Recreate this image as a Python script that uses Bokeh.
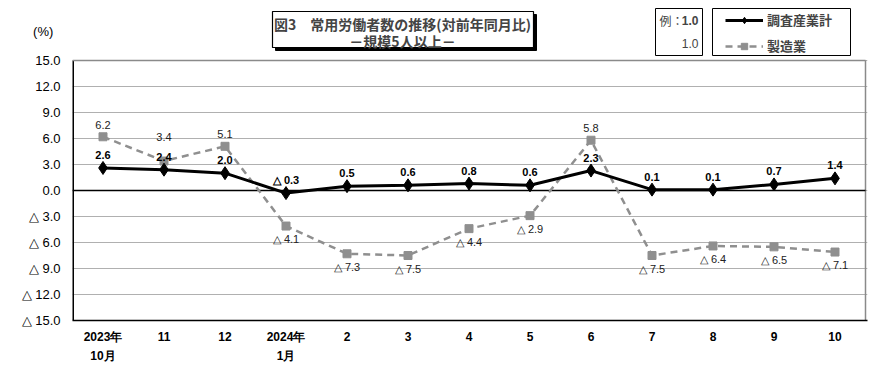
from bokeh.plotting import figure
from bokeh.models import (Range1d, FixedTicker, ColumnDataSource, Label, BoxAnnotation,
                          Legend, LegendItem)
from bokeh.core.properties import value
from bokeh.embed import file_html
from bokeh.resources import INLINE

# ---- data ----
months = ["2023年\n10月", "11", "12", "2024年\n1月", "2", "3", "4", "5", "6", "7", "8", "9", "10"]
total = [2.6, 2.4, 2.0, -0.3, 0.5, 0.6, 0.8, 0.6, 2.3, 0.1, 0.1, 0.7, 1.4]
manuf = [6.2, 3.4, 5.1, -4.1, -7.3, -7.5, -4.4, -2.9, 5.8, -7.5, -6.4, -6.5, -7.1]
y_ticks = [-15, -12, -9, -6, -3, 0, 3, 6, 9, 12, 15]
title_lines = ["図3　常用労働者数の推移(対前年同月比)", "－規模5人以上－"]
series_names = ["調査産業計", "製造業"]
unit_label = "(%)"


def fmt(v):
    return f"{v:.1f}" if v >= 0 else f"△ {abs(v):.1f}"


JP = "Noto Sans CJK JP"
NUM = "Liberation Sans"
GRAY = "#8f8f8f"
BORDER_GRAY = "#8a8a8a"

# geometry (page pixels; the page has no margin)
W, H = 890, 370
FL, FR_AX, FT_AX, FB = 72, 865, 60, 320     # plot-area edges in the reference
FRAME_R = 867                                # frame a bit wider so the right border is visible
XN = len(months)
X0, X1 = -0.5, XN - 0.5
Y0, Y1 = -15, 15
XPP = (FR_AX - FL) / (X1 - X0)               # pixels per x unit
YPP = (FB - FT_AX) / (Y1 - Y0)               # pixels per y unit


def px(page_x):
    return X0 + (page_x - FL) / XPP


def py(page_y):
    return Y1 - (page_y - FT_AX) / YPP


xs = list(range(XN))
p = figure(width=W, height=H, x_range=Range1d(X0, px(FRAME_R)), y_range=Range1d(Y0, py(0)),
           output_backend="svg", toolbar_location=None,
           min_border_left=FL, min_border_right=W - FRAME_R, min_border_top=0,
           min_border_bottom=H - FB)
p.outline_line_color = None
p.xgrid.grid_line_color = None
p.ygrid.grid_line_color = "#b0b0b0"
p.ygrid.grid_line_width = 1
p.ygrid.ticker = FixedTicker(ticks=y_ticks)

# y axis: the unit "(%)" is an extra tick label placed above the scale
unit_tick = 18.4
p.yaxis.ticker = FixedTicker(ticks=y_ticks + [unit_tick])
overrides = {t: fmt(float(t)) for t in y_ticks}
overrides[unit_tick] = unit_label + "\u00a0\u00a0"
p.yaxis.major_label_overrides = overrides
p.yaxis.major_tick_line_color = None
p.yaxis.minor_tick_line_color = None
p.yaxis.major_tick_out = 0
p.yaxis.axis_line_color = None
p.yaxis.major_label_text_font = NUM
p.yaxis.major_label_text_font_size = "13px"
p.yaxis.major_label_text_color = "black"
p.yaxis.major_label_standoff = 12

p.xaxis.ticker = FixedTicker(ticks=xs)
p.xaxis.major_label_overrides = {i: m for i, m in zip(xs, months)}
p.xaxis.major_tick_line_color = None
p.xaxis.minor_tick_line_color = None
p.xaxis.major_tick_out = 0
p.xaxis.major_tick_in = 0
p.xaxis.axis_line_color = "black"
p.xaxis.axis_line_width = 1.5
p.xaxis.major_label_text_font = NUM
p.xaxis.major_label_text_font_style = "bold"
p.xaxis.major_label_text_font_size = "12px"
p.xaxis.major_label_text_line_height = 1.4
p.xaxis.major_label_text_color = "black"
p.xaxis.major_label_standoff = 9

# plot-area borders: left black, top/right gray, zero line black
p.segment(x0=[X0], y0=[Y0], x1=[X0], y1=[Y1], line_color="black", line_width=3)
p.segment(x0=[X0], y0=[Y1], x1=[X1], y1=[Y1], line_color=BORDER_GRAY, line_width=1.5)
p.segment(x0=[X1], y0=[Y0], x1=[X1], y1=[Y1], line_color=BORDER_GRAY, line_width=1.5)
p.segment(x0=[X0], y0=[0], x1=[X1], y1=[0], line_color="black", line_width=1.5)

# manufacturing (gray dashed)
r_m_line = p.line(xs, manuf, line_color=GRAY, line_width=2.5, line_dash="7 5")
r_m_pt = p.scatter(xs, manuf, marker="square", size=8, fill_color=GRAY, line_color=GRAY)

# total (black)
r_t_line = p.line(xs, total, line_color="black", line_width=3)
r_t_pt = p.scatter(xs, total, marker="diamond", size=13, fill_color="black", line_color="black")

# value labels: total
src_t = ColumnDataSource(dict(x=xs, y=total, t=[fmt(v) for v in total]))
p.text(x="x", y="y", text="t", source=src_t, y_offset=-13, text_align="center", text_baseline="middle",
       text_font=value(NUM), text_font_style="bold", text_font_size="11px", text_color="black")

# value labels: manufacturing
pos_i = [i for i, v in enumerate(manuf) if v >= 0]
neg_i = [i for i, v in enumerate(manuf) if v < 0]
src_mp = ColumnDataSource(dict(x=[xs[i] for i in pos_i], y=[manuf[i] for i in pos_i],
                               t=[fmt(manuf[i]) for i in pos_i],
                               dy=[-24 if i == 1 else -12 for i in pos_i]))
src_mn = ColumnDataSource(dict(x=[xs[i] for i in neg_i], y=[manuf[i] for i in neg_i],
                               t=[fmt(manuf[i]) for i in neg_i]))
p.text(x="x", y="y", text="t", source=src_mp, y_offset="dy", text_align="center", text_baseline="middle",
       text_font=value(NUM), text_font_size="11px", text_color="#222222")
p.text(x="x", y="y", text="t", source=src_mn, y_offset=13, text_align="center", text_baseline="middle",
       text_font=value(NUM), text_font_size="11px", text_color="#222222")

# ---- header: title box with shadow, example box ----
p.add_layout(BoxAnnotation(left=px(275), right=px(536), top=py(14), bottom=py(50),
                           fill_color="black", fill_alpha=1, line_color="black", line_alpha=1))
p.add_layout(BoxAnnotation(left=px(272), right=px(533), top=py(11), bottom=py(47),
                           fill_color="white", fill_alpha=1, line_color="black", line_alpha=1,
                           line_width=1.2))
for ln, yy in zip(title_lines, [23, 40]):
    p.add_layout(Label(x=px(402), y=py(yy), text=ln, text_font=JP, text_font_style="bold",
                       text_font_size="14px", text_align="center", text_baseline="middle"))

p.add_layout(BoxAnnotation(left=px(655), right=px(702), top=py(8), bottom=py(55),
                           fill_color="white", fill_alpha=1, line_color="black", line_alpha=1))
p.add_layout(Label(x=px(659), y=py(20), text="例：", text_font=JP, text_font_size="12px",
                   text_align="left", text_baseline="middle"))
p.add_layout(Label(x=px(698), y=py(20), text="1.0", text_font=NUM, text_font_style="bold",
                   text_font_size="12px", text_align="right", text_baseline="middle"))
p.add_layout(Label(x=px(698), y=py(43), text="1.0", text_font=NUM,
                   text_font_size="12px", text_align="right", text_baseline="middle"))

# ---- legend ----
p.add_layout(BoxAnnotation(left=px(712), right=px(850), top=py(8), bottom=py(55),
                           fill_color="white", fill_alpha=1, line_color="black", line_alpha=1))
legend = Legend(items=[LegendItem(label=series_names[0], renderers=[r_t_line, r_t_pt]),
                       LegendItem(label=series_names[1], renderers=[r_m_line, r_m_pt])],
                location=(725 - FL, FB - 55),
                orientation="vertical", border_line_color=None, background_fill_alpha=0,
                glyph_width=38, glyph_height=16, label_text_font=JP, label_text_font_style="bold",
                label_text_font_size="13px", label_standoff=4, spacing=7, padding=4, margin=0,
                label_height=16)
p.add_layout(legend, "center")

open("out.html", "w").write(file_html(p, INLINE))
